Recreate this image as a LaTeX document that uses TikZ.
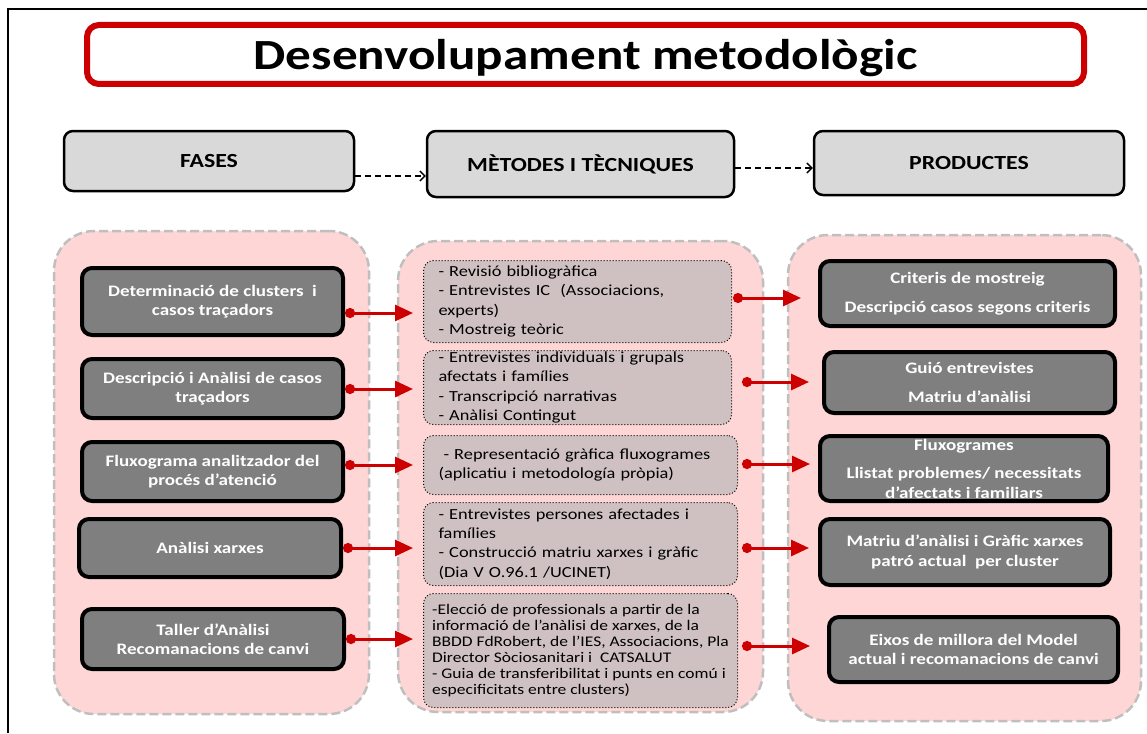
\documentclass[tikz,border=0pt]{standalone}
\usepackage{fontspec}
\setmainfont{Carlito}[FakeStretch=1.19]
\usetikzlibrary{arrows.meta}

\definecolor{titlered}{RGB}{204,0,0}
\definecolor{pinkbg}{RGB}{255,214,214}
\definecolor{panelgray}{RGB}{191,191,191}
\definecolor{headgray}{RGB}{217,217,217}
\definecolor{darkbox}{RGB}{127,127,127}
\definecolor{methfill}{RGB}{207,193,193}

\begin{document}
\begin{tikzpicture}[x=1pt,y=-1pt,
  titlebox/.style={draw=titlered, line width=6pt, rounded corners=12pt,
    minimum width=997pt, minimum height=59pt, inner sep=0pt,
    font=\bfseries\fontsize{43}{50}\selectfont},
  headbox/.style={draw=black, line width=2.5pt, fill=headgray, rounded corners=9pt,
    inner sep=0pt, font=\bfseries\fontsize{20}{24}\selectfont},
  panel/.style={draw=panelgray, line width=2.5pt, dash pattern=on 9pt off 4pt,
    fill=pinkbg, rounded corners=40pt, inner sep=0pt},
  darkbox/.style={draw=black, line width=4pt, fill=darkbox, rounded corners=10pt,
    inner sep=0pt, text=white, align=center,
    font=\bfseries\fontsize{16}{19.5}\selectfont},
  methbox/.style={draw=black, line width=1pt, dotted, fill=methfill,
    rounded corners=10pt, inner xsep=0pt, inner ysep=0pt, align=left,
    font=\fontsize{15.4}{19.3}\selectfont},
  flow/.style={draw=titlered, line width=3pt,
    {Circle[length=10pt]}-{Triangle[length=18pt,width=16pt]}},
  headarrow/.style={draw=black, line width=1.3pt, dash pattern=on 6pt off 4pt,
    -{Straight Barb[length=5pt,width=10pt]}}
]
\useasboundingbox (0,0) rectangle (1147,733);

% outer frame (left and top edges)
\draw[line width=2pt] (8,733) -- (8,9) -- (1147,9);

% title
\node[titlebox] (title) at (585.5,54.5)
  {\raisebox{-4pt}[\height][\depth]{Desenvolupament metodològic}};

% column headers
\node[headbox, minimum width=290pt, minimum height=60pt] (hF) at (209,161) {FASES};
\node[headbox, minimum width=307pt, minimum height=66pt] (hM) at (580.5,164) {MÈTODES I TÈCNIQUES};
\node[headbox, minimum width=310pt, minimum height=64pt] (hP) at (969,163) {PRODUCTES};

% background panels
\node[panel, minimum width=315pt, minimum height=483pt] (pL) at (211.5,472.5) {};
\node[panel, minimum width=365pt, minimum height=471pt] (pM) at (580.5,476.5) {};
\node[panel, minimum width=353pt, minimum height=486pt] (pR) at (964.5,478) {};

% phases
\node[darkbox, minimum width=261pt, minimum height=67pt] (L1) at (212.5,301.5)
  {Determinació de clusters\ \ i\\casos traçadors};
\node[darkbox, minimum width=261pt, minimum height=59pt] (L2) at (212.5,388.5)
  {Descripció i Anàlisi de casos\\traçadors};
\node[darkbox, minimum width=261pt, minimum height=59pt] (L3) at (212.5,471.5)
  {Fluxograma analitzador del\\procés d’atenció};
\node[darkbox, minimum width=262pt, minimum height=58pt] (L4) at (210,548)
  {Anàlisi xarxes};
\node[darkbox, minimum width=262pt, minimum height=60pt] (L5) at (213,639)
  {Taller d’Anàlisi\\Recomanacions de canvi};

% methods and techniques
\node[methbox, minimum width=308pt, minimum height=82pt, text width=278pt] (M1) at (577.5,301.5)
  {- Revisió bibliogràfica\\- Entrevistes IC\ \ (Associacions,\\experts)\\- Mostreig teòric};
\node[methbox, minimum width=308pt, minimum height=74pt, text width=278pt] (M2) at (577.5,387.5)
  {- Entrevistes individuals i grupals\\afectats i famílies\\- Transcripció narrativas\\- Anàlisi Contingut};
\node[methbox, minimum width=314pt, minimum height=59pt, text width=284pt] (M3) at (580.5,465)
  {\hspace*{5pt}- Representació gràfica fluxogrames\\(aplicatiu i metodología pròpia)};
\node[methbox, minimum width=314pt, minimum height=83pt, text width=284pt] (M4) at (580.5,544)
  {- Entrevistes persones afectades i\\famílies\\- Construcció matriu xarxes i gràfic\\(Dia V O.96.1 /UCINET)};
\node[methbox, minimum width=314pt, minimum height=114pt,
      font=\fontsize{14.7}{16}\selectfont] (M5) at (580.5,650.5)
  {-Elecció de professionals a partir de la\\informació de l’anàlisi de xarxes, de la\\BBDD FdRobert, de l’IES, Associacions, Pla\\Director Sòciosanitari i\ \ CATSALUT\\- Guia de transferibilitat i punts en comú i\\especificitats entre clusters)};

% products
\node[darkbox, minimum width=295pt, minimum height=65pt] (R1) at (967.5,293.5)
  {Criteris de mostreig\\[9pt]Descripció casos segons criteris};
\node[darkbox, minimum width=291pt, minimum height=61pt] (R2) at (969.5,382.5)
  {Guió entrevistes\\[10pt]Matriu d’anàlisi};
\node[darkbox, minimum width=288pt, minimum height=65pt] (R3) at (964,468.5)
  {Fluxogrames\\[9pt]Llistat problemes/ necessitats\\d’afectats i familiars};
\node[darkbox, minimum width=290pt, minimum height=66pt] (R4) at (965,552)
  {Matriu d’anàlisi i Gràfic xarxes\\patró actual\ \ per cluster};
\node[darkbox, minimum width=289pt, minimum height=65pt] (R5) at (973.5,649.5)
  {Eixos de millora del Model\\actual i recomanacions de canvi};

% header connectors
\draw[headarrow] (hF.east |- 0,176) -- (hM.west |- 0,176);
\draw[headarrow] (hM.east |- 0,168) -- (hP.west |- 0,168);

% phase -> method connectors
\draw[flow, shorten >=10pt] (L1.east |- 0,313) -- (M1.west |- 0,313);
\draw[flow, shorten >=10pt] (L2.east |- 0,389) -- (M2.west |- 0,389);
\draw[flow, shorten >=10pt] (L3.east |- 0,465) -- (M3.west |- 0,465);
\draw[flow, shorten >=10pt] (L4.east |- 0,548) -- (M4.west |- 0,548);
\draw[flow, shorten >=10pt] (L5.east |- 0,639) -- (M5.west |- 0,639);

% method -> product connectors
\draw[flow, shorten <=1pt, shorten >=17pt] (M1.east |- 0,298) -- (R1.west |- 0,298);
\draw[flow, shorten <=10pt, shorten >=13pt] (M2.east |- 0,382) -- (R2.west |- 0,382);
\draw[flow, shorten <=4pt, shorten >=8pt] (M3.east |- 0,464) -- (R3.west |- 0,464);
\draw[flow, shorten <=4pt, shorten >=9pt] (M4.east |- 0,548) -- (R4.west |- 0,548);
\draw[flow, shorten <=4pt, shorten >=17pt] (M5.east |- 0,646) -- (R5.west |- 0,646);
\end{tikzpicture}
\end{document}
